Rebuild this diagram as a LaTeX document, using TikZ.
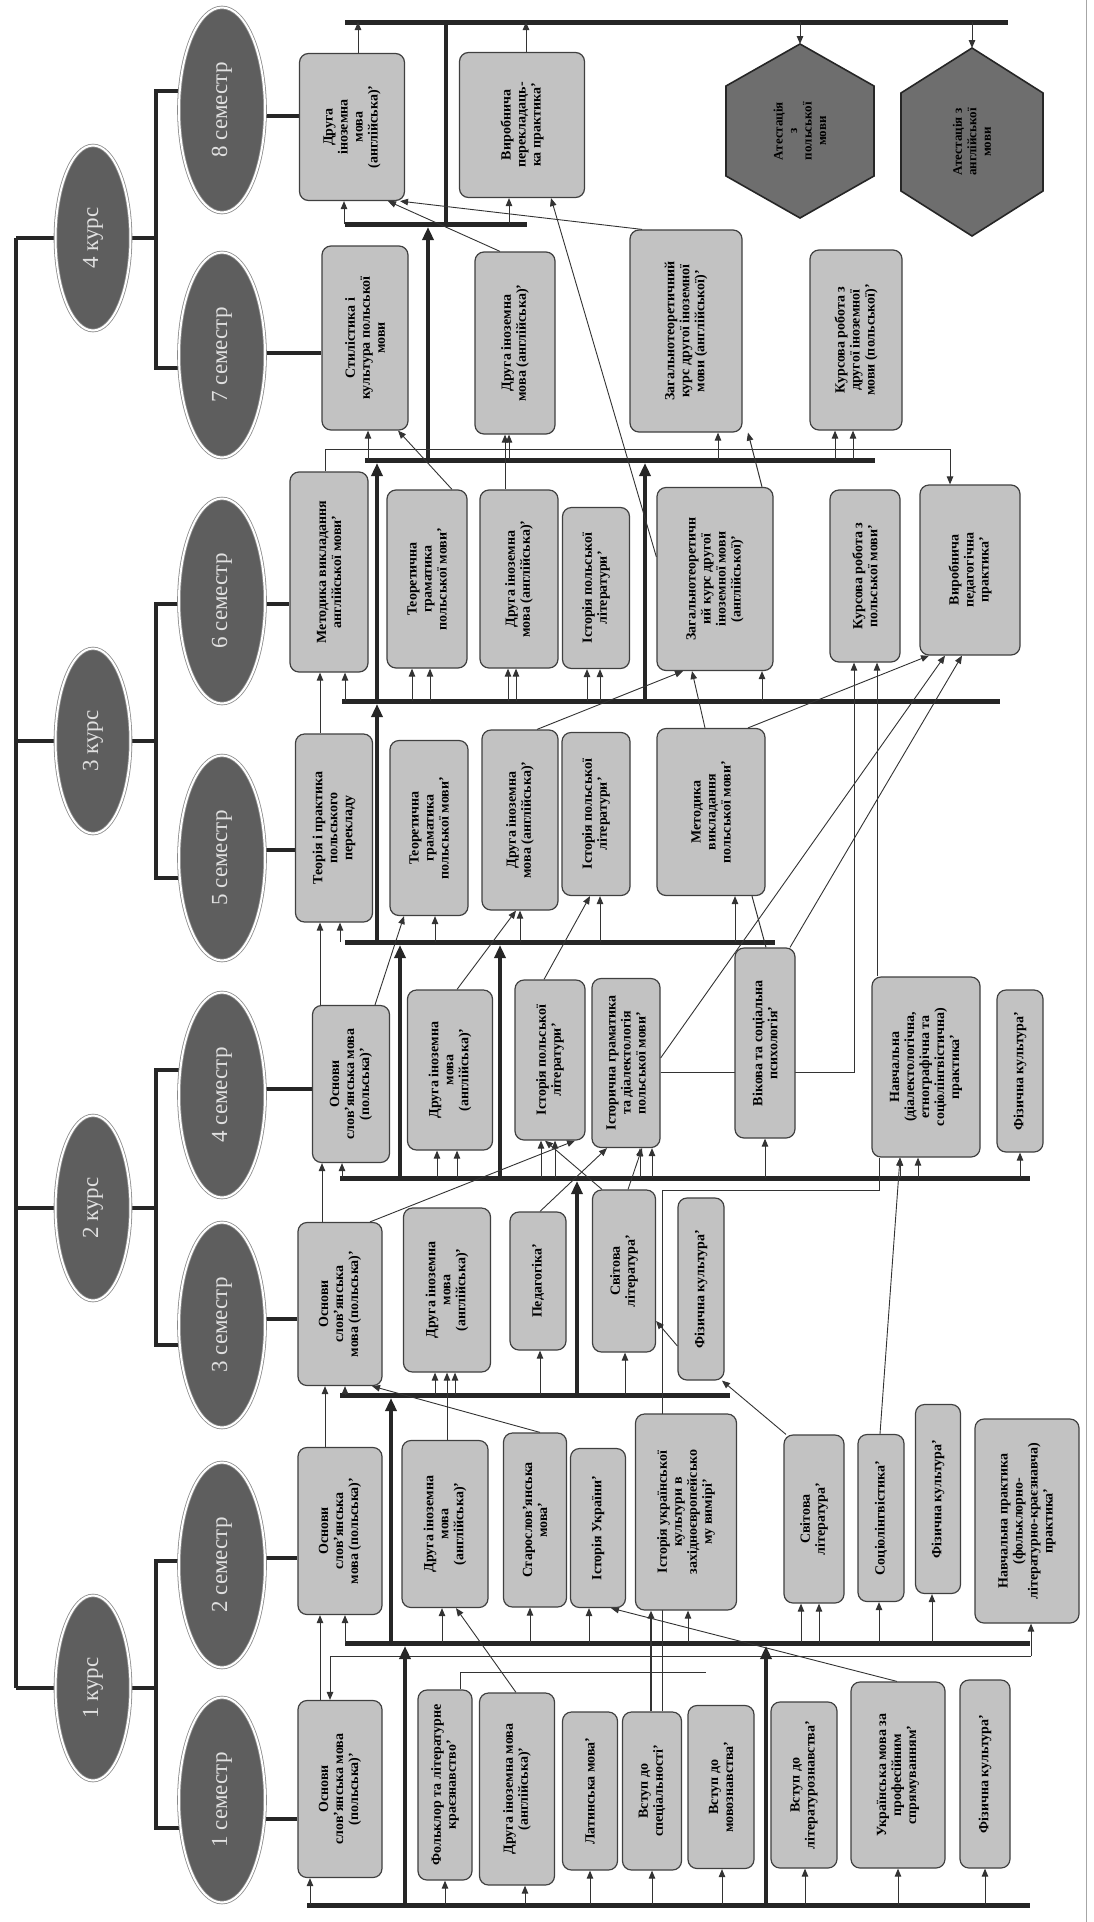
\documentclass[tikz,border=0pt]{standalone}
\usepackage{fontspec}
\setmainfont{Liberation Serif}
\usetikzlibrary{arrows.meta,calc,shapes.geometric}
\pgfdeclarelayer{paper}
\pgfdeclarelayer{bg}
\pgfsetlayers{paper,bg,main}
\newcommand\bx[6]{\node[box,minimum width=#5pt,minimum height=#4pt] (#1) at (#2,#3) {#6};}
\newcommand\ba[3]{\draw[arr] (#1,0 |- #2) -- (#1,0 |- #3.west);}
\begin{document}
\begin{tikzpicture}[x=1pt,y=-1pt,
 box/.style={draw=black!75,line width=1.2pt,fill=black!24,rounded corners=9pt,rotate=90,align=center,inner sep=2pt,font=\bfseries\fontsize{14}{15}\selectfont},
 sem/.style={ellipse,fill=black!63,draw=black!45,double=white,double distance=2pt,line width=0.8pt,rotate=90,text=black!12,font=\fontsize{23}{25}\selectfont,inner sep=0pt,minimum width=205pt,minimum height=86pt},
 crs/.style={sem,minimum width=185pt,minimum height=75pt},
 hexs/.style={fill=black!57,draw=black!85,line width=1.6pt},
 hext/.style={rotate=90,align=center,font=\bfseries\fontsize{13}{14.5}\selectfont},
 bus/.style={line width=5pt,draw=black!85},
 brk/.style={line width=3.5pt,draw=black!85},
 tline/.style={line width=1pt,draw=black!80},
 arr/.style={tline,-{Triangle[length=8pt,width=6.5pt]}},
 lnk/.style={line width=0.9pt,draw=black!80,-{Triangle[length=8pt,width=6.5pt]}},
 spine/.style={line width=4pt,draw=black!85,-{Triangle[length=13pt,width=11pt]},shorten >=3pt}
]
\useasboundingbox (0,0) rectangle (1094,1922);
\begin{pgfonlayer}{paper}
\fill[white] (0,0) rectangle (1094,1922);
\end{pgfonlayer}

% ellipses
\node[crs] (c4) at (93,238) {4 курс};
\node[crs] (c3) at (93,741) {3 курс};
\node[crs] (c2) at (93,1208) {2 курс};
\node[crs] (c1) at (93,1688) {1 курс};
\node[sem] (s8) at (222,110) {8 семестр};
\node[sem] (s7) at (222,355) {7 семестр};
\node[sem] (s6) at (222,601) {6 семестр};
\node[sem] (s5) at (222,858) {5 семестр};
\node[sem] (s4) at (222,1095) {4 семестр};
\node[sem] (s3) at (222,1325) {3 семестр};
\node[sem] (s2) at (222,1565) {2 семестр};
\node[sem] (s1) at (222,1800) {1 семестр};

% boxes
\bx{b8a}{352}{127}{105}{147}{Друга\\іноземна\\мова\\(англійська)’}
\bx{b8b}{522}{125}{125}{145}{Виробнича\\перекладаць-\\ка практика’}
\bx{b7a}{365}{338}{86}{184}{Стилістика і\\культура польської\\мови}
\bx{b7b}{515}{343}{80}{182}{Друга іноземна\\мова (англійська)’}
\bx{b7c}{686}{331}{112}{202}{Загальнотеоретичний\\курс другої іноземної\\мови (англійської)’}
\bx{b7d}{856}{340}{92}{180}{Курсова робота з\\другої іноземної\\мови (польської)’}
\bx{b6a}{329}{572}{78}{200}{Методика викладання\\англійської мови’}
\bx{b6b}{427}{579}{80}{178}{Теоретична\\граматика\\польської мови’}
\bx{b6c}{519}{579}{78}{178}{Друга іноземна\\мова (англійська)’}
\bx{b6d}{596}{588}{67}{161}{Історія польської\\літератури’}
\bx{b6e}{715}{579}{116}{183}{Загальнотеоретичн\\ий курс другої\\іноземної мови\\(англійської)’}
\bx{b6f}{865}{576}{70}{172}{Курсова робота з\\польської мови’}
\bx{b6g}{970}{570}{100}{170}{Виробнича\\педагогічна\\практика’}
\bx{b5a}{334}{828}{77}{188}{Теорія і практика\\польського\\перекладу}
\bx{b5b}{429}{828}{78}{175}{Теоретична\\граматика\\польської мови’}
\bx{b5c}{520}{820}{76}{180}{Друга іноземна\\мова (англійська)’}
\bx{b5d}{596}{814}{68}{163}{Історія польської\\літератури’}
\bx{b5e}{711}{812}{108}{167}{Методика\\викладання\\польської мови’}
\bx{b4a}{351}{1084}{77}{157}{Основи\\слов’янська мова\\(польська)’}
\bx{b4b}{450}{1070}{85}{160}{Друга іноземна\\мова\\(англійська)’}
\bx{b4c}{550}{1060}{70}{160}{Історія польської\\літератури’}
\bx{b4d}{626}{1063}{68}{169}{Історична граматика\\та діалектологія\\польської мови’}
\bx{b4e}{765}{1043}{60}{190}{Вікова та соціальна\\психологія’}
\bx{b4f}{926}{1067}{108}{180}{Навчальна\\(діалектологічна,\\етнографічна та\\соціолінгвістична)\\практика’}
\bx{b4g}{1020}{1071}{46}{162}{Фізична культура’}
\bx{b3a}{340}{1304}{84}{163}{Основи\\слов’янська\\мова (польська)’}
\bx{b3b}{447}{1290}{87}{164}{Друга іноземна\\мова\\(англійська)’}
\bx{b3c}{538}{1281}{56}{138}{Педагогіка’}
\bx{b3d}{624}{1271}{63}{162}{Світова\\література’}
\bx{b3e}{701}{1289}{46}{182}{Фізична культура’}
\bx{b2a}{340}{1531}{84}{167}{Основи\\слов’янська\\мова (польська)’}
\bx{b2b}{445}{1524}{86}{167}{Друга іноземна\\мова\\(англійська)’}
\bx{b2c}{535}{1520}{63}{174}{Старослов’янська\\мова’}
\bx{b2d}{598}{1528}{55}{159}{Історія України’}
\bx{b2e}{686}{1512}{101}{196}{Історія української\\культури в\\західноєвропейсько\\му вимірі’}
\bx{b2f}{814}{1519}{60}{168}{Світова\\література’}
\bx{b2g}{881}{1518}{46}{167}{Соціолінгвістика’}
\bx{b2h}{938}{1499}{45}{189}{Фізична культура’}
\bx{b2i}{1027}{1521}{104}{204}{Навчальна практика\\(фольклорно-\\літературно-краєзнавча)\\практика’}
\bx{b1a}{340}{1789}{84}{177}{Основи\\слов’янська мова\\(польська)’}
\bx{b1b}{445}{1785}{54}{190}{Фольклор та літературне\\краєзнавство’}
\bx{b1c}{517}{1789}{75}{192}{Друга іноземна мова\\(англійська)’}
\bx{b1d}{590}{1791}{55}{158}{Латинська мова’}
\bx{b1e}{652}{1791}{59}{158}{Вступ до\\спеціальності’}
\bx{b1f}{721}{1787}{66}{163}{Вступ до\\мовознавства’}
\bx{b1g}{804}{1785}{66}{166}{Вступ до\\літературознавства’}
\bx{b1h}{898}{1775}{94}{186}{Українська мова за\\професійним\\спрямуванням’}
\bx{b1i}{985}{1774}{50}{188}{Фізична культура’}

% hexagons
\coordinate (h1t) at (800,44);
\coordinate (h2t) at (972,48);
\draw[hexs] (h1t) -- (874,86) -- (874,176) -- (800,218) -- (726,176) -- (726,86) -- cycle;
\draw[hexs] (h2t) -- (1043,93) -- (1043,191) -- (972,236) -- (901,191) -- (901,93) -- cycle;
\node[hext] (h1) at (800,131) {Атестація\\з\\польської\\мови};
\node[hext] (h2) at (972,142) {Атестація з\\англійської\\мови};

% bus coordinates
\coordinate (T8) at (0,22);
\coordinate (B78) at (0,224);
\coordinate (B67) at (0,460);
\coordinate (B67t) at (0,449);
\coordinate (B56) at (0,701);
\coordinate (B45) at (0,942);
\coordinate (B34) at (0,1178);
\coordinate (B34t) at (0,1190);
\coordinate (B23) at (0,1395);
\coordinate (B12) at (0,1643);
\coordinate (B12t) at (0,1656);
\coordinate (B01) at (0,1905);

\begin{pgfonlayer}{bg}
% border
\draw[black!35,line width=0.7pt] (1086,0) -- (1086,1922);
% root and brackets
\draw[brk] (16,0 |- c4) -- (16,0 |- c1);
\foreach \c in {c1,c2,c3,c4} {\draw[brk] (16,0 |- \c) -- (\c.north);}
\draw[brk] (c4.south) -- (156,0 |- c4);
\draw[brk] (s8.north |- 0,91) -- (156,91) -- (156,368) -- (s7.north |- 0,368);
\draw[brk] (c3.south) -- (156,0 |- c3);
\draw[brk] (s6.north |- 0,604) -- (156,604) -- (156,878) -- (s5.north |- 0,878);
\draw[brk] (c2.south) -- (156,0 |- c2);
\draw[brk] (s4.north |- 0,1070) -- (156,1070) -- (156,1345) -- (s3.north |- 0,1345);
\draw[brk] (c1.south) -- (156,0 |- c1);
\draw[brk] (s2.north |- 0,1561) -- (156,1561) -- (156,1828) -- (s1.north |- 0,1828);
% semester stubs
\draw[brk] (s8.south |- 0,116) -- (b8a.north |- 0,116);
\draw[brk] (s7.south |- 0,353) -- (b7a.north |- 0,353);
\draw[brk] (s6.south |- 0,604) -- (b6a.north |- 0,604);
\draw[brk] (s5.south |- 0,850) -- (b5a.north |- 0,850);
\draw[brk] (s4.south |- 0,1089) -- (b4a.north |- 0,1089);
\draw[brk] (s3.south |- 0,1319) -- (b3a.north |- 0,1319);
\draw[brk] (s2.south |- 0,1558) -- (b2a.north |- 0,1558);
\draw[brk] (s1.south |- 0,1819) -- (b1a.north |- 0,1819);

% buses
\draw[bus] (345,0 |- T8) -- (1008,0 |- T8);
\draw[bus] (345,0 |- B78) -- (527,0 |- B78);
\draw[bus] (365,0 |- B67) -- (875,0 |- B67);
\draw[bus] (342,0 |- B56) -- (1000,0 |- B56);
\draw[bus] (345,0 |- B45) -- (775,0 |- B45);
\draw[bus] (340,0 |- B34) -- (1030,0 |- B34);
\draw[bus] (340,0 |- B23) -- (730,0 |- B23);
\draw[bus] (345,0 |- B12) -- (1030,0 |- B12);
\draw[bus] (307,0 |- B01) -- (1030,0 |- B01);
\draw[tline] (330,0 |- B12t) -- (1031,0 |- B12t);
\draw[arr] (1031,0 |- B12t) -- (1031,0 |- b2i.west);
\draw[arr] (330,0 |- B12t) -- (330,0 |- b1a.east);

% spines
\draw[spine] (405,0 |- B01) -- (405,0 |- B12);
\draw[spine] (766,0 |- B01) -- (766,0 |- B12);
\draw[spine] (391,0 |- B12) -- (391,0 |- B23);
\draw[spine] (577,0 |- B23) -- (577,0 |- B34);
\draw[spine] (400,0 |- B34) -- (400,0 |- B45);
\draw[spine] (500,0 |- B34) -- (500,0 |- B45);
\draw[spine] (377,0 |- B45) -- (377,0 |- B56);
\draw[spine] (377,0 |- B56) -- (377,0 |- B67);
\draw[spine] (645,0 |- B56) -- (645,0 |- B67);
\draw[spine] (428,0 |- B67) -- (428,0 |- B78);
\draw[brk] (446,0 |- B78) -- (446,0 |- T8);

% bus arrows
\ba{344}{B78}{b8a} \ba{509}{B78}{b8b}
\draw[arr] (358,0 |- b8a.east) -- (358,0 |- T8);
\draw[arr] (526,0 |- b8b.east) -- (526,0 |- T8);
\draw[arr] (800,0 |- T8) -- (h1t);
\draw[arr] (972,0 |- T8) -- (h2t);
\ba{368}{B67}{b7a} \ba{509}{B67}{b7b} \ba{718}{B67}{b7c} \ba{835}{B67}{b7d} \ba{853}{B67}{b7d}
\ba{345}{B56}{b6a} \ba{412}{B56}{b6b} \ba{430}{B56}{b6b} \ba{508}{B56}{b6c} \ba{516}{B56}{b6c}
\ba{587}{B56}{b6d} \ba{600}{B56}{b6d} \ba{762}{B56}{b6e}
\ba{340}{B45}{b5a} \ba{435}{B45}{b5b} \ba{520}{B45}{b5c} \ba{600}{B45}{b5d} \ba{735}{B45}{b5e}
\ba{342}{B34}{b4a} \ba{437}{B34}{b4b} \ba{457}{B34}{b4b} \ba{541}{B34}{b4c} \ba{555}{B34}{b4c}
\ba{640}{B34}{b4d} \ba{652}{B34}{b4d} \ba{765}{B34}{b4e} \ba{900}{B34}{b4f} \ba{918}{B34}{b4f} \ba{1020}{B34}{b4g}
\ba{345}{B23}{b3a} \ba{435}{B23}{b3b} \ba{455}{B23}{b3b} \ba{540}{B23}{b3c} \ba{625}{B23}{b3d}
\ba{345}{B12}{b2a} \ba{442}{B12}{b2b} \ba{530}{B12}{b2c} \ba{589}{B12}{b2d} \ba{688}{B12}{b2e}
\ba{801}{B12}{b2f} \ba{819}{B12}{b2f} \ba{879}{B12}{b2g} \ba{932}{B12}{b2h}
\ba{310}{B01}{b1a} \ba{445}{B01}{b1b} \ba{525}{B01}{b1c} \ba{590}{B01}{b1d} \ba{652}{B01}{b1e}
\ba{722}{B01}{b1f} \ba{805}{B01}{b1g} \ba{898}{B01}{b1h} \ba{985}{B01}{b1i}

% direct vertical links
\draw[arr] (320,0 |- b1a.east) -- (320,0 |- b2a.west);
\draw[arr] (325,0 |- b2a.east) -- (325,0 |- b3a.west);
\draw[arr] (322,0 |- b3a.east) -- (322,0 |- b4a.west);
\draw[arr] (320,0 |- b4a.east) -- (320,0 |- b5a.west);
\draw[arr] (320,0 |- b5a.east) -- (320,0 |- b6a.west);
\draw[arr] (447,0 |- b2b.east) -- (447,0 |- b3b.west);
\draw[arr] (505,0 |- b6c.east) -- (505,0 |- b7b.west);
\draw[arr] (762,0 |- b6e.east) -- (748,0 |- b7c.west);
\draw[tline] (325,0 |- b6a.east) -- (325,0 |- B67t) -- (950,0 |- B67t);
\draw[arr] (950,0 |- B67t) -- (950,0 |- b6g.east);

% diagonal links
\draw[lnk] (642,0 |- b7c.east) -- (400,0 |- b8a.west);
\draw[lnk] (500,0 |- b7b.east) -- (388,0 |- b8a.west);
\draw[lnk] (b6e.north |- 0,557) -- (551,0 |- b8b.west);
\draw[lnk] (452,0 |- b6b.east) -- (398,0 |- b7a.west);
\draw[lnk] (537,0 |- b5c.east) -- (683,0 |- b6e.west);
\draw[lnk] (705,0 |- b5e.east) -- (692,0 |- b6e.west);
\draw[lnk] (748,0 |- b5e.east) -- (929,0 |- b6g.west);
\draw[lnk] (b4d.south |- 0,1058) -- (945,0 |- b6g.west);
\draw[lnk] (790,0 |- b4e.east) -- (962,0 |- b6g.west);
\draw[lnk] (375,0 |- b4a.east) -- (404,0 |- b5b.west);
\draw[lnk] (457,0 |- b4b.east) -- (516,0 |- b5c.west);
\draw[lnk] (544,0 |- b4c.east) -- (590,0 |- b5d.west);
\draw[tline] (752,0 |- b5e.west) -- (766,0 |- b4e.east);
\draw[lnk] (b4d.south |- 0,1072) -- (854,1072) -- (854,0 |- b6f.west);
\draw[lnk] (877,0 |- b4f.east) -- (877,0 |- b6f.west);
\draw[lnk] (370,0 |- b3a.east) -- (575,0 |- b4c.west);
\draw[lnk] (540,0 |- b3c.east) -- (607,0 |- b4d.west);
\draw[lnk] (602,0 |- b3d.east) -- (545,0 |- b4c.west);
\draw[lnk] (628,0 |- b3d.east) -- (642,0 |- b4d.west);
\draw[lnk] (540,0 |- b2c.east) -- (372,0 |- b3a.west);
\draw[lnk] (786,0 |- b2f.east) -- (722,0 |- b3e.west);
\draw[lnk] (b3e.north |- 0,1346) -- (b3d.south |- 0,1321);
\draw[lnk] (880,0 |- b2g.east) -- (900,0 |- b4f.west);
\draw[lnk] (897,0 |- b1h.east) -- (611,0 |- b2d.west);
\draw[lnk] (516,0 |- b1c.east) -- (456,0 |- b2b.west);
\draw[tline] (460,0 |- b1b.east) -- (460,1672) -- (706,1672);
\draw[lnk,line width=1.8pt] (651,0 |- b1e.east) -- (651,0 |- b2e.west);
\draw[tline] (662,0 |- b1e.east) -- (662,0 |- B34t) -- (879,0 |- B34t) -- (879,0 |- b4f.west);
\end{pgfonlayer}
\end{tikzpicture}
\end{document}
